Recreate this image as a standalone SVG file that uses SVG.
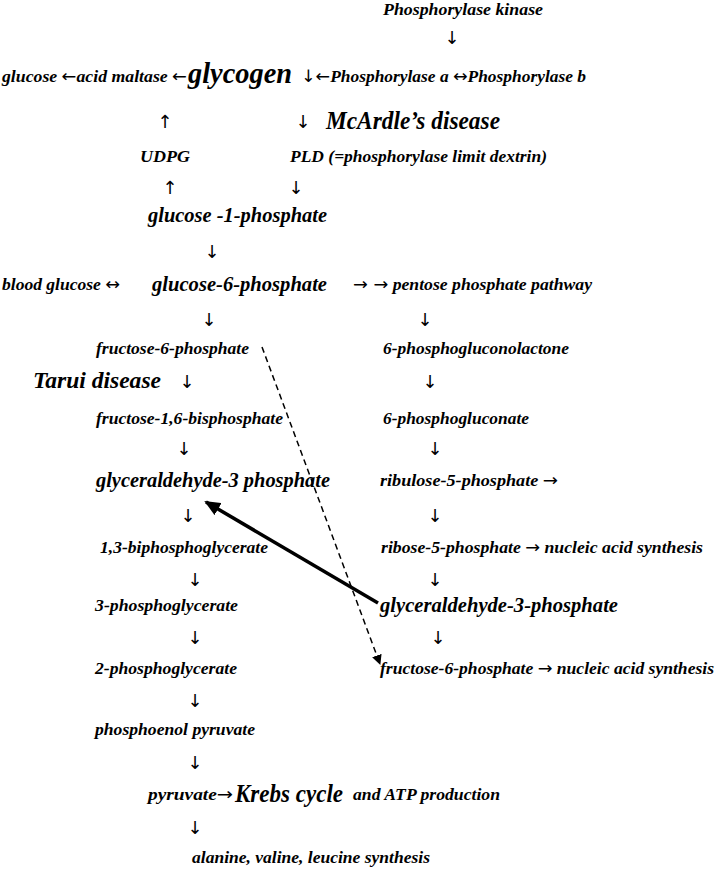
<svg xmlns="http://www.w3.org/2000/svg" width="716" height="870" viewBox="0 0 716 870">
<style>
text{font-family:"Liberation Serif","Times New Roman",serif;font-style:italic;font-weight:bold;fill:#000}
.n{font-size:17px}
.l{font-size:21px}
.xl{font-size:25px}
.g{font-size:30px}
.ar{font-family:"DejaVu Sans",sans-serif;font-size:18px;font-weight:normal;font-style:normal;text-anchor:middle}
.ia{font-family:"DejaVu Sans",sans-serif;font-weight:normal;font-style:normal}
</style>
<defs>
<marker id="hs" markerUnits="userSpaceOnUse" markerWidth="16" markerHeight="14" refX="14" refY="7" orient="auto">
<path d="M0,0 L16,7 L0,14 Z" fill="#000"/>
</marker>
<marker id="hd" markerUnits="userSpaceOnUse" markerWidth="10" markerHeight="10" refX="9" refY="5" orient="auto">
<path d="M0,0 L10,5 L0,10 Z" fill="#000"/>
</marker>
</defs>
<rect width="716" height="870" fill="#fff"/>

<g id="connectors">
<line x1="262" y1="347" x2="380" y2="664" stroke="#000" stroke-width="1.5" stroke-dasharray="6,4" marker-end="url(#hd)"/>
<line x1="378" y1="603" x2="206" y2="502" stroke="#000" stroke-width="3.5" marker-end="url(#hs)"/>
<text class="ar" x="452" y="44">↓</text>
<text class="ar" x="165" y="128">↑</text>
<text class="ar" x="303" y="128">↓</text>
<text class="ar" x="170" y="194">↑</text>
<text class="ar" x="296" y="194">↓</text>
<text class="ar" x="212" y="258">↓</text>
<text class="ar" x="209" y="326">↓</text>
<text class="ar" x="425" y="326">↓</text>
<text class="ar" x="187" y="388">↓</text>
<text class="ar" x="430" y="388">↓</text>
<text class="ar" x="184" y="455">↓</text>
<text class="ar" x="435" y="455">↓</text>
<text class="ar" x="188" y="522">↓</text>
<text class="ar" x="435" y="522">↓</text>
<text class="ar" x="195" y="586">↓</text>
<text class="ar" x="435" y="586">↓</text>
<text class="ar" x="195" y="644">↓</text>
<text class="ar" x="438" y="644">↓</text>
<text class="ar" x="195" y="707">↓</text>
<text class="ar" x="195" y="769">↓</text>
<text class="ar" x="195" y="834">↓</text>
</g>

<g id="phosphorylase-kinase"><text class="n" x="383" y="15" textLength="160" lengthAdjust="spacingAndGlyphs">Phosphorylase kinase</text></g>
<g id="glucose-acid-maltase"><text class="n" x="2" y="82" textLength="185" lengthAdjust="spacingAndGlyphs">glucose <tspan class="ia">←</tspan>acid maltase <tspan class="ia">←</tspan></text></g>
<g id="glycogen"><text class="g" x="188" y="83" textLength="104" lengthAdjust="spacingAndGlyphs">glycogen</text></g>
<g id="phosphorylase"><text class="n" x="301" y="82" textLength="285" lengthAdjust="spacingAndGlyphs"><tspan class="ia">↓←</tspan>Phosphorylase a <tspan class="ia">↔</tspan>Phosphorylase b</text></g>
<g id="mcardle"><text class="xl" x="326" y="129" textLength="174" lengthAdjust="spacingAndGlyphs">McArdle’s disease</text></g>
<g id="udpg"><text class="n" x="140" y="162" textLength="50" lengthAdjust="spacingAndGlyphs">UDPG</text></g>
<g id="pld"><text class="n" x="290" y="162" textLength="257" lengthAdjust="spacingAndGlyphs">PLD (=phosphorylase limit dextrin)</text></g>
<g id="g1p"><text class="l" x="148" y="222" textLength="179" lengthAdjust="spacingAndGlyphs">glucose -1-phosphate</text></g>
<g id="blood-glucose"><text class="n" x="2" y="290" textLength="118" lengthAdjust="spacingAndGlyphs">blood glucose <tspan class="ia">↔</tspan></text></g>
<g id="g6p"><text class="l" x="152" y="291" textLength="175" lengthAdjust="spacingAndGlyphs">glucose-6-phosphate</text></g>
<g id="ppp"><text class="n" x="353" y="290" textLength="239" lengthAdjust="spacingAndGlyphs"><tspan class="ia">→ →</tspan> pentose phosphate pathway</text></g>
<g id="f6p"><text class="n" x="96" y="354" textLength="153" lengthAdjust="spacingAndGlyphs">fructose-6-phosphate</text></g>
<g id="pgl"><text class="n" x="383" y="354" textLength="186" lengthAdjust="spacingAndGlyphs">6-phosphogluconolactone</text></g>
<g id="tarui"><text class="xl" x="33" y="388" textLength="128" lengthAdjust="spacingAndGlyphs" style="font-size:23px">Tarui disease</text></g>
<g id="f16bp"><text class="n" x="96" y="424" textLength="187" lengthAdjust="spacingAndGlyphs">fructose-1,6-bisphosphate</text></g>
<g id="pg"><text class="n" x="383" y="424" textLength="146" lengthAdjust="spacingAndGlyphs">6-phosphogluconate</text></g>
<g id="gap1"><text class="l" x="96" y="487" textLength="234" lengthAdjust="spacingAndGlyphs">glyceraldehyde-3 phosphate</text></g>
<g id="ru5p"><text class="n" x="380" y="486" textLength="178" lengthAdjust="spacingAndGlyphs">ribulose-5-phosphate <tspan class="ia">→</tspan></text></g>
<g id="bpg"><text class="n" x="100" y="553" textLength="168" lengthAdjust="spacingAndGlyphs">1,3-biphosphoglycerate</text></g>
<g id="r5p"><text class="n" x="381" y="553" textLength="322" lengthAdjust="spacingAndGlyphs">ribose-5-phosphate <tspan class="ia">→</tspan> nucleic acid synthesis</text></g>
<g id="pg3"><text class="n" x="95" y="611" textLength="143" lengthAdjust="spacingAndGlyphs">3-phosphoglycerate</text></g>
<g id="gap2"><text class="l" x="380" y="612" textLength="238" lengthAdjust="spacingAndGlyphs">glyceraldehyde-3-phosphate</text></g>
<g id="pg2"><text class="n" x="95" y="674" textLength="142" lengthAdjust="spacingAndGlyphs">2-phosphoglycerate</text></g>
<g id="f6p2"><text class="n" x="380" y="674" textLength="334" lengthAdjust="spacingAndGlyphs">fructose-6-phosphate <tspan class="ia">→</tspan> nucleic acid synthesis</text></g>
<g id="pep"><text class="n" x="95" y="735" textLength="160" lengthAdjust="spacingAndGlyphs">phosphoenol pyruvate</text></g>
<g id="pyruvate"><text class="n" x="148" y="800" textLength="85" lengthAdjust="spacingAndGlyphs">pyruvate<tspan class="ia">→</tspan></text></g>
<g id="krebs"><text class="xl" x="235" y="802" textLength="108" lengthAdjust="spacingAndGlyphs">Krebs cycle</text></g>
<g id="atp"><text class="n" x="353" y="800" textLength="147" lengthAdjust="spacingAndGlyphs">and ATP production</text></g>
<g id="aa"><text class="n" x="192" y="863" textLength="238" lengthAdjust="spacingAndGlyphs">alanine, valine, leucine synthesis</text></g>
</svg>
